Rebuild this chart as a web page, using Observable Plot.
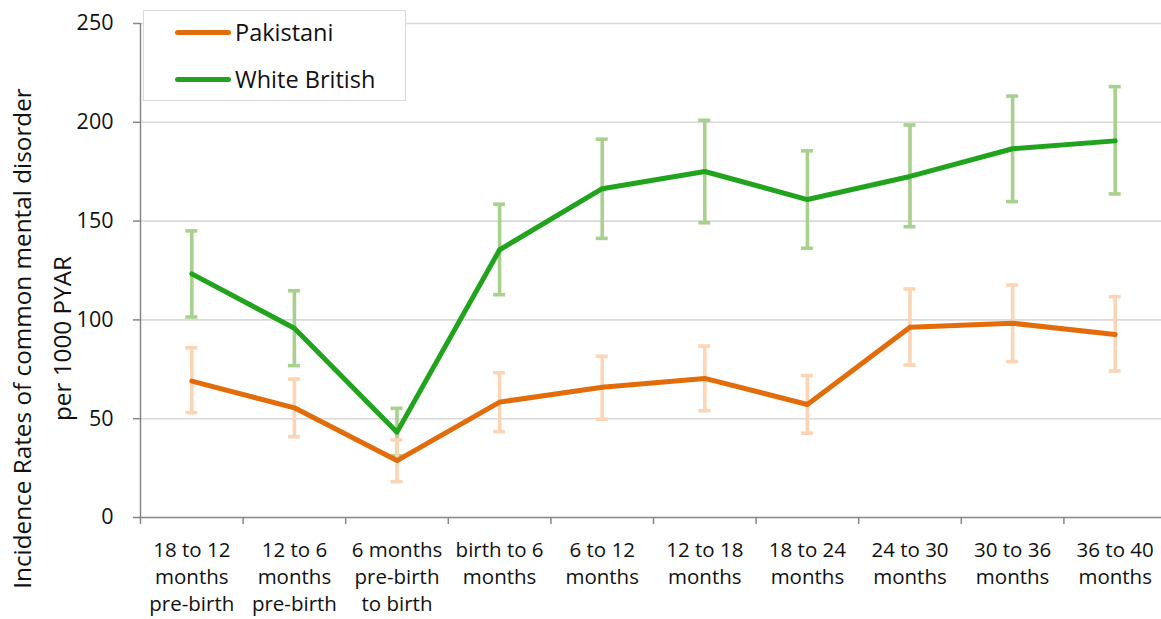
<!DOCTYPE html>
<html>
<head>
<meta charset="utf-8">
<script src="https://cdn.jsdelivr.net/npm/d3@7"></script>
<script src="https://cdn.jsdelivr.net/npm/@observablehq/plot@0.6"></script>
<style>
  html, body { margin: 0; padding: 0; background: #fff; }
  #wrap { position: relative; width: 1161px; height: 619px; font-family: "Open Sans", sans-serif; }
  #legend { position: absolute; left: 143px; top: 10px; width: 261px; height: 89px; border: 1.5px solid #d9d9d9; background: #fff; }
  .row { position: absolute; left: 0; height: 30px; display: flex; align-items: center; }
  .swatch { width: 56px; height: 5px; border-radius: 2.5px; margin-left: 31px; margin-right: 4px; }
  .lab { font-size: 23.5px; color: #111; }
</style>
</head>
<body>
<div id="wrap"></div>
<script>
const categories = ["18 to 12\nmonths\npre-birth", "12 to 6\nmonths\npre-birth", "6 months\npre-birth\nto birth", "birth to 6\nmonths", "6 to 12\nmonths", "12 to 18\nmonths", "18 to 24\nmonths", "24 to 30\nmonths", "30 to 36\nmonths", "36 to 40\nmonths"];
const seriesNames = ["Pakistani", "White British"];
const pakistani = [69, 55.5, 28.8, 58.4, 65.9, 70.4, 57.2, 96.3, 98.3, 92.6];
const pakLow = [52.8, 40.6, 17.9, 43.2, 49.5, 53.8, 42.4, 76.9, 78.6, 73.9];
const pakHigh = [85.7, 69.8, 39, 73, 81.3, 86.5, 71.6, 115.4, 117.4, 111.5];
const white = [123.3, 95.8, 43.2, 135.5, 166.4, 175.1, 160.9, 172.6, 186.6, 190.6];
const whiteLow = [101.2, 76.6, 31, 112.5, 141, 148.9, 136, 146.9, 159.6, 163.5];
const whiteHigh = [144.8, 114.5, 55, 158.3, 191.2, 200.8, 185.3, 198.4, 213, 217.8];
const yTicks = [0, 50, 100, 150, 200, 250];
const yLabel = "Incidence Rates of common mental disorder\nper 1000 PYAR";

const colors = {line: ["#e36c0a", "#21a31e"], err: ["#fbd5b5", "#a9d18e"]};

const rows = (vals, lo, hi, s) => categories.map((c, i) => ({i, v: vals[i], lo: lo[i], hi: hi[i], s}));
const pak = rows(pakistani, pakLow, pakHigh, seriesNames[0]);
const wb = rows(white, whiteLow, whiteHigh, seriesNames[1]);
const idx = d3.range(categories.length);
const bounds = d3.range(categories.length + 1).map(k => k - 0.5);

const capMarks = (data, key, color) => Plot.rect(data, {x1: "i", x2: "i", y1: key, y2: key, insetLeft: -6, insetRight: -6, insetTop: -1.8, insetBottom: -1.8, fill: color});
const errMarks = (data, color) => [
  Plot.ruleX(data, {x: "i", y1: "lo", y2: "hi", stroke: color, strokeWidth: 3.6}),
  capMarks(data, "lo", color),
  capMarks(data, "hi", color)
];

const chart = Plot.plot({
  width: 1161,
  height: 619,
  marginLeft: 140,
  marginRight: -5,
  marginTop: 23,
  marginBottom: 102,
  style: {fontFamily: "Open Sans, sans-serif", color: "#111", background: "#fff"},
  x: {type: "linear", domain: [-0.5, categories.length - 0.5]},
  y: {domain: [0, 250]},
  marks: [
    Plot.ruleY(yTicks.filter(t => t > 0), {stroke: "#d9d9d9", strokeWidth: 1.6}),
    Plot.axisY({ticks: yTicks, tickSize: 7, tickPadding: 20, fontSize: 21.5, stroke: "#868686", strokeWidth: 1.5, label: null, color: "#111"}),
    Plot.axisX({ticks: idx, tickFormat: i => categories[i], tickSize: 0, tickPadding: 20, fontSize: 20.5, lineHeight: 1.32, label: null, color: "#111"}),
    Plot.axisX({ticks: bounds, tickFormat: () => "", tickSize: 7, stroke: "#868686", strokeWidth: 1.5, label: null}),
    Plot.ruleX([-0.5], {stroke: "#868686", strokeWidth: 1.5}),
    Plot.ruleY([0], {stroke: "#868686", strokeWidth: 1.5}),
    ...errMarks(wb, colors.err[1]),
    ...errMarks(pak, colors.err[0]),
    Plot.line(wb, {x: "i", y: "v", stroke: colors.line[1], strokeWidth: 5, strokeLinejoin: "round", strokeLinecap: "round"}),
    Plot.line(pak, {x: "i", y: "v", stroke: colors.line[0], strokeWidth: 5, strokeLinejoin: "round", strokeLinecap: "round"}),
    Plot.text([yLabel], {frameAnchor: "left", text: d => d, rotate: -90, textAnchor: "middle", dx: -102, dy: 68, fontSize: 24.3, lineHeight: 1.62, fill: "#111"})
  ]
});

const wrap = document.getElementById("wrap");
wrap.appendChild(chart);
const legend = document.createElement("div");
legend.id = "legend";
seriesNames.forEach((name, k) => {
  const row = document.createElement("div");
  row.className = "row";
  row.style.top = (k === 0 ? 6 : 53) + "px";
  const sw = document.createElement("div");
  sw.className = "swatch";
  sw.style.background = colors.line[k];
  const lab = document.createElement("span");
  lab.className = "lab";
  lab.textContent = name;
  row.appendChild(sw);
  row.appendChild(lab);
  legend.appendChild(row);
});
wrap.appendChild(legend);
</script>
</body>
</html>
